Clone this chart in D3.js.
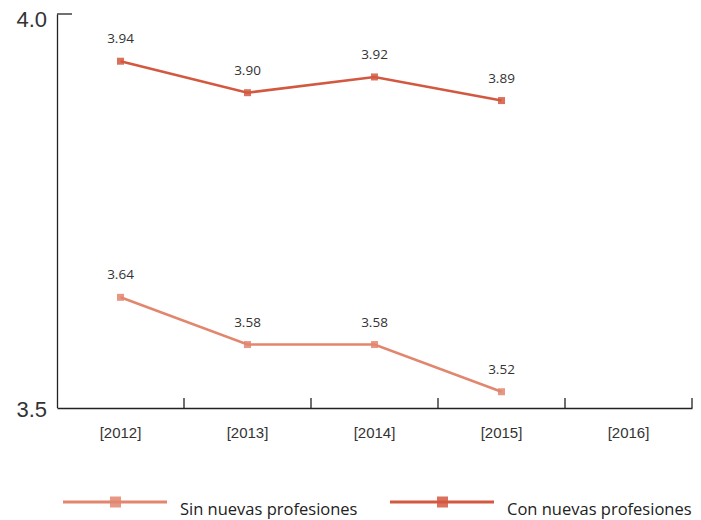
<!DOCTYPE html>
<html>
<head>
<meta charset="utf-8">
<script src="https://cdn.jsdelivr.net/npm/d3@7/dist/d3.min.js"></script>
<style>
  body { margin: 0; background: #fff; }
  svg { display: block; font-family: "Open Sans", "Noto Sans", sans-serif; }
</style>
</head>
<body>
<svg></svg>
<script>
var categories = ['[2012]', '[2013]', '[2014]', '[2015]', '[2016]'];
var sinValues = [3.64, 3.58, 3.58, 3.52];
var conValues = [3.94, 3.90, 3.92, 3.89];
var yTicks = [3.5, 4.0];
var seriesNames = ['Sin nuevas profesiones', 'Con nuevas profesiones'];
var seriesColors = ['#e2866e', '#d35840'];

var width = 701;
var height = 520;
var margin = { top: 14, left: 57, right: 9, bottom: 112 };

var svg = d3.select('svg')
    .attr('width', width)
    .attr('height', height);

var x = d3.scaleBand()
    .domain(categories)
    .range([margin.left, width - margin.right]);

var y = d3.scaleLinear()
    .domain([3.5, 4.0])
    .range([height - margin.bottom - 0.5, margin.top]);

var xAxis = svg.append('g')
    .attr('transform', 'translate(0,' + (height - margin.bottom) + ')')
    .call(d3.axisBottom(x).tickSize(0).tickSizeOuter(0).tickPadding(19));
xAxis.select('.domain').attr('stroke', '#222').attr('stroke-width', 1.3);
xAxis.selectAll('text').attr('font-size', 15).attr('fill', '#333');

// tick marks between categories, pointing up
var bounds = categories.map(function (c) { return x(c) + x.bandwidth(); });
xAxis.selectAll('line.sep')
    .data(bounds)
    .enter()
    .append('line')
    .attr('class', 'sep')
    .attr('x1', function (d) { return d; })
    .attr('x2', function (d) { return d; })
    .attr('y1', 0)
    .attr('y2', -10)
    .attr('stroke', '#222')
    .attr('stroke-width', 1.3);

var yAxis = svg.append('g')
    .attr('transform', 'translate(' + margin.left + ',0)')
    .call(d3.axisLeft(y).tickValues(yTicks).tickFormat(d3.format('.1f')).tickSize(0).tickSizeOuter(0).tickPadding(10));
yAxis.select('.domain').attr('stroke', '#222').attr('stroke-width', 1.3);
yAxis.selectAll('text').attr('font-size', 22).attr('fill', '#333');
yAxis.selectAll('.tick text').attr('dy', function (d) { return d === 4.0 ? '0.55em' : '0.4em'; });
yAxis.append('line')
    .attr('x1', 0).attr('x2', 15)
    .attr('y1', y(4.0)).attr('y2', y(4.0))
    .attr('stroke', '#222').attr('stroke-width', 1.3);

var line = d3.line()
    .x(function (d, i) { return x(categories[i]) + x.bandwidth() / 2; })
    .y(function (d) { return y(d); });

[sinValues, conValues].forEach(function (vals, s) {
    var g = svg.append('g');
    g.append('path')
        .datum(vals)
        .attr('fill', 'none')
        .attr('stroke', seriesColors[s])
        .attr('stroke-width', 2.6)
        .attr('d', line);

    g.selectAll('rect')
        .data(vals)
        .enter()
        .append('rect')
        .attr('x', function (d, i) { return x(categories[i]) + x.bandwidth() / 2 - 3.5; })
        .attr('y', function (d) { return y(d) - 3.5; })
        .attr('width', 7)
        .attr('height', 7)
        .attr('fill', seriesColors[s])
        .attr('opacity', 0.85);

    g.selectAll('text')
        .data(vals)
        .enter()
        .append('text')
        .attr('x', function (d, i) { return x(categories[i]) + x.bandwidth() / 2; })
        .attr('y', function (d) { return y(d) - 18; })
        .attr('text-anchor', 'middle')
        .attr('font-size', 13.5)
        .attr('fill', '#333')
        .text(function (d) { return d3.format('.2f')(d); });
});

// legend
var legendX = [63, 390];
var legend = svg.selectAll('g.legend')
    .data(seriesNames)
    .enter()
    .append('g')
    .attr('class', 'legend')
    .attr('transform', function (d, i) { return 'translate(' + legendX[i] + ',502)'; });

legend.append('line')
    .attr('x1', 0).attr('x2', 104)
    .attr('stroke', function (d, i) { return seriesColors[i]; })
    .attr('stroke-width', 3);
legend.append('rect')
    .attr('x', 47).attr('y', -5.5)
    .attr('width', 11).attr('height', 11)
    .attr('fill', function (d, i) { return seriesColors[i]; })
    .attr('opacity', 0.85);
legend.append('text')
    .attr('x', 117)
    .attr('y', 13)
    .attr('font-size', 16.5)
    .attr('fill', '#222')
    .text(function (d) { return d; });
</script>
</body>
</html>
